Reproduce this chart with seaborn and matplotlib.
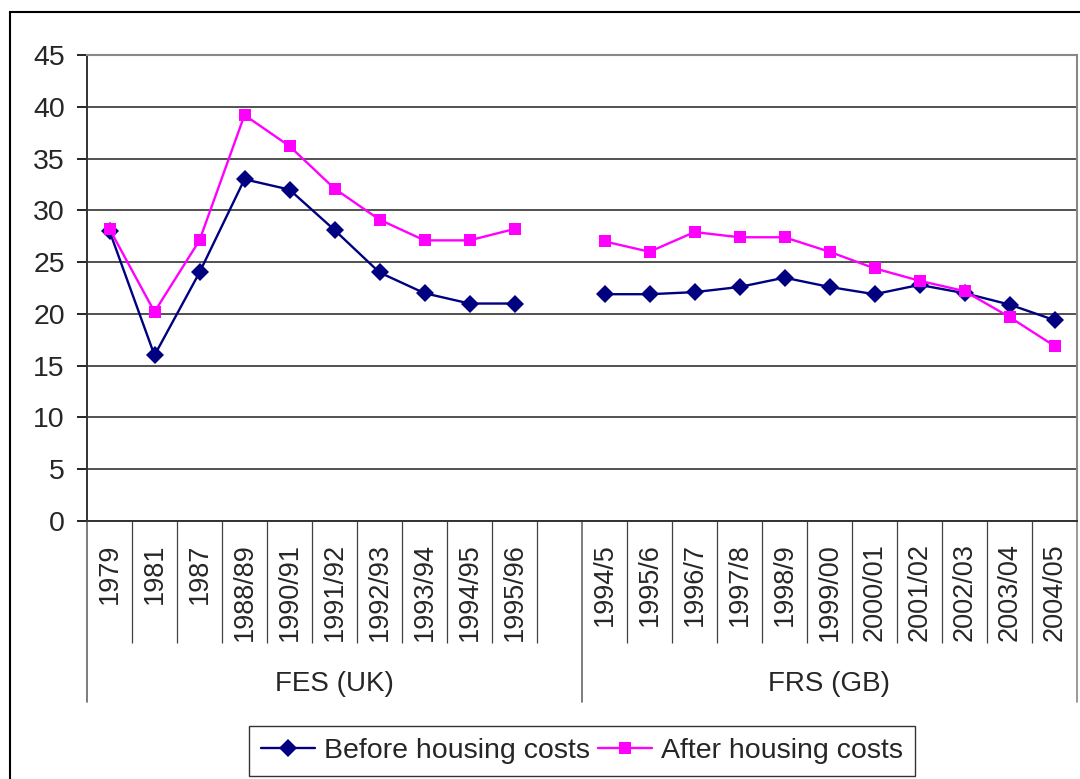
import numpy as np
import pandas as pd
import matplotlib.pyplot as plt
import matplotlib.transforms as mtransforms
from matplotlib.patches import Rectangle
from matplotlib.ticker import FixedLocator
import seaborn as sns

# Data
fes_periods = ['1979', '1981', '1987', '1988/89', '1990/91', '1991/92',
               '1992/93', '1993/94', '1994/95', '1995/96']
fes_bhc = [28.0, 16.0, 24.0, 33.0, 32.0, 28.1, 24.0, 22.0, 21.0, 21.0]
fes_ahc = [28.2, 20.2, 27.1, 39.2, 36.2, 32.1, 29.1, 27.1, 27.1, 28.2]

frs_periods = ['1994/5', '1995/6', '1996/7', '1997/8', '1998/9', '1999/00',
               '2000/01', '2001/02', '2002/03', '2003/04', '2004/05']
frs_bhc = [21.9, 21.9, 22.1, 22.6, 23.5, 22.6, 21.9, 22.8, 22.0, 20.9, 19.4]
frs_ahc = [27.0, 26.0, 27.9, 27.4, 27.4, 26.0, 24.4, 23.2, 22.2, 19.7, 16.9]

groups = ['FES (UK)', 'FRS (GB)']
series = ['Before housing costs', 'After housing costs']

# one empty slot between the two surveys
fes_pos = list(range(len(fes_periods)))
frs_pos = [i + len(fes_periods) + 1 for i in range(len(frs_periods))]

rows = []
for grp, periods, pos, bhc, ahc in [(groups[0], fes_periods, fes_pos, fes_bhc, fes_ahc),
                                    (groups[1], frs_periods, frs_pos, frs_bhc, frs_ahc)]:
    for p, x, b, a in zip(periods, pos, bhc, ahc):
        rows.append({'period': p, 'group': grp, 'pos': x, 'series': series[0], 'value': b})
        rows.append({'period': p, 'group': grp, 'pos': x, 'series': series[1], 'value': a})
df = pd.DataFrame(rows)

sns.set_theme(style='white')
plt.rcParams['font.family'] = ['Liberation Sans', 'DejaVu Sans']

fig = plt.figure(figsize=(10.8, 7.79), dpi=100)
ax = fig.add_axes([87 / 1080, 1 - 521 / 779, (1077 - 87) / 1080, (521 - 55) / 779])

sns.lineplot(data=df, x='pos', y='value', hue='series', style='series',
             units='group', estimator=None, sort=False,
             palette={series[0]: '#000080', series[1]: '#FF00FF'},
             markers={series[0]: 'D', series[1]: 's'}, dashes=False,
             markersize=8.5, markeredgewidth=0, linewidth=1.7, ax=ax)

# diamonds a touch larger than squares, as in the original
for ln in ax.lines:
    if ln.get_marker() == 'D':
        ln.set_markersize(9)

handles, labels = ax.get_legend_handles_labels()
ax.get_legend().remove()

n_slots = len(fes_periods) + 1 + len(frs_periods)
ax.set_xlim(-0.5, n_slots - 0.5)
ax.set_ylim(0, 45)
ax.set_yticks(np.arange(0, 46, 5))
ax.tick_params(axis='y', labelsize=20.5, length=7, width=1.2, direction='out',
               left=True, color='black', pad=9)

ax.set_xticks(fes_pos + frs_pos)
ax.set_xticklabels(fes_periods + frs_periods, rotation=90, va='top')
ax.tick_params(axis='x', which='major', length=0, labelsize=19.5, pad=16)

# short separators between categories
seps = [b - 0.5 for b in range(1, len(fes_periods) + 1)] + \
       [b - 0.5 for b in range(len(fes_periods) + 2, n_slots)]
ax.xaxis.set_minor_locator(FixedLocator(seps))
ax.tick_params(axis='x', which='minor', length=88, width=0.9, color='#404040',
               direction='out', bottom=True)

ax.set_xlabel('')
ax.set_ylabel('')
ax.yaxis.grid(True, color='#333333', linewidth=1.2)
ax.xaxis.grid(False)

for s in ['left', 'bottom']:
    ax.spines[s].set_color('#333333')
    ax.spines[s].set_linewidth(1.4)
for s in ['top', 'right']:
    ax.spines[s].set_color('#888888')
    ax.spines[s].set_linewidth(1.5)

# long separators for the two survey groups
for x, c in [(-0.5, '#666666'), (len(fes_periods) + 0.5, '#666666'), (n_slots - 0.5, '#888888')]:
    ax.axvline(x, ymin=-0.389, ymax=0, color=c, linewidth=1.2, clip_on=False)

trans = mtransforms.blended_transform_factory(ax.transData, ax.transAxes)
ax.text(np.mean([-0.5, len(fes_periods) + 0.5]), -0.35, groups[0], transform=trans,
        ha='center', va='center', fontsize=20)
ax.text(np.mean([len(fes_periods) + 0.5, n_slots - 0.5]), -0.35, groups[1], transform=trans,
        ha='center', va='center', fontsize=20)

fig.legend(handles, labels, loc='lower center', bbox_to_anchor=(582 / 1080, 0.0),
           ncol=2, fontsize=20.5, frameon=True, fancybox=False, edgecolor='black',
           handlelength=1.9, handletextpad=0.3, columnspacing=0.3,
           borderpad=0.42, borderaxespad=0.1)
fig.legends[0].get_frame().set_linewidth(1.0)

# chart area border
fig.add_artist(Rectangle((10 / 1080, -0.05), 1.2, 1 - 12 / 779 + 0.05, fill=False,
                         edgecolor='black', linewidth=1.5, transform=fig.transFigure))

fig.savefig('out.png', dpi=100)
